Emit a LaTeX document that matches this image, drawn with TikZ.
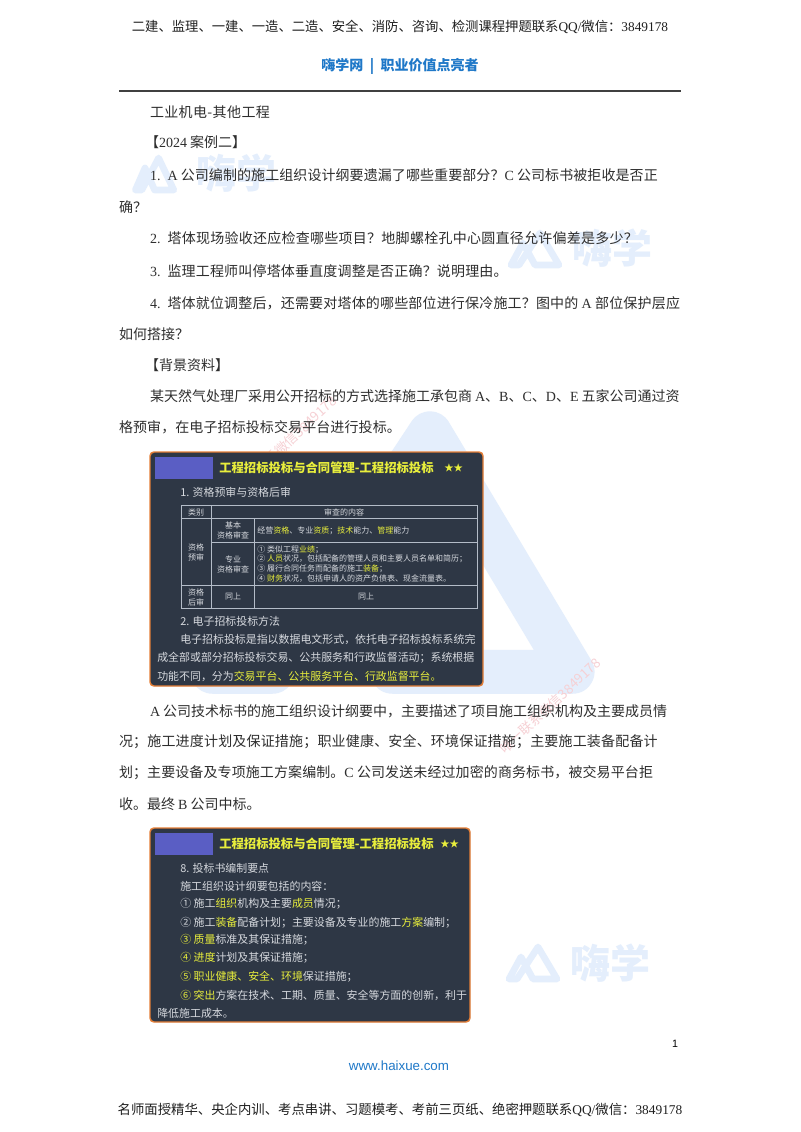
\documentclass[tikz,border=0pt]{standalone}
\usepackage{fontspec}
\setmainfont{Noto Sans CJK SC}
\newfontfamily\latinf{Liberation Serif}
\newfontfamily\sansf{Liberation Sans}
\newcommand{\lf}[1]{{\latinf #1}}
\newcommand{\ls}[2]{{\addfontfeature{LetterSpace=#1}#2}}
\definecolor{wmblue}{HTML}{E4EEFC}
\definecolor{panel}{HTML}{2E3745}
\definecolor{pborder}{HTML}{E57E36}
\definecolor{ylw}{HTML}{E8EE3C}
\definecolor{ptxt}{HTML}{D6D9DE}
\definecolor{hblue}{HTML}{1F78C8}
\definecolor{pgrid}{HTML}{B4BCC8}
\definecolor{redmk}{HTML}{F6D0D4}
\definecolor{pblock}{HTML}{5A5EC4}
\newcommand{\Y}[1]{\textcolor{ylw}{#1}}
% logo: x, y, x scale, y scale, stroke width
\newcommand{\wmlogo}[5]{%
 \begin{scope}[shift={(#1,#2)},xscale=#3,yscale=#4]
 \draw[wmblue,line width=#5,line join=round,line cap=round]
   (3,35)--(15,13)--(27,35)--(51,35)--(32,3)--(11,35)--cycle;
 \end{scope}}
\tikzset{
 x=0.75pt,y=-0.75pt,
 bodyline/.style={anchor=west,inner sep=0pt,outer sep=0pt,text=black!82,font=\fontsize{10.5pt}{12pt}\selectfont},
 headline/.style={anchor=center,inner sep=0pt,text=black!88,font=\fontsize{10pt}{12pt}\selectfont},
 ptitle/.style={anchor=west,inner sep=0pt,text=ylw,font=\bfseries\fontsize{9.25pt}{10pt}\selectfont},
 ptext/.style={anchor=west,inner sep=0pt,text=ptxt,font=\fontsize{8.2pt}{9pt}\selectfont},
 psmall/.style={anchor=center,inner sep=0pt,text=ptxt,font=\fontsize{6pt}{7.5pt}\selectfont,align=center},
 psmallw/.style={anchor=west,inner sep=0pt,text=ptxt,font=\fontsize{6pt}{7.5pt}\selectfont},
 wmtext/.style={inner sep=0pt,text=wmblue,font=\bfseries\fontsize{30pt}{32pt}\selectfont},
 redwm/.style={inner sep=0pt,text=redmk,font=\fontsize{10pt}{11pt}\selectfont,rotate=43},
 panelbox/.style={fill=panel,draw=pborder,line width=1.1pt,rounded corners=3pt},
 grid/.style={draw=pgrid,line width=0.6pt}
}
\begin{document}
\begin{tikzpicture}
\useasboundingbox[fill=white] (0,0) rectangle (800,1132);
% large watermark
\wmlogo{190}{411}{7.5}{7.45}{33pt}
\wmlogo{133}{155}{0.8}{1.0}{5pt}
\node[wmtext] (wm1) at (236,173) {嗨学};
\wmlogo{508}{230}{1}{1}{5pt}
\node[wmtext] (wm2) at (612,248) {嗨学};
\wmlogo{506}{944}{1}{1}{5pt}
\node[wmtext] (wm3) at (610,963) {嗨学};
\node[redwm] (rw1) at (550,706) {唯一联系微信3849178};
\node[redwm] (rw2) at (286,444) {唯一联系微信3849178};
% header
\node[headline] (hd) at (400,26.5) {二建、监理、一建、一造、二造、安全、消防、咨询、检测课程押题联系\lf{QQ/}微信：\lf{3849178}};
\node[headline,text=hblue,font=\bfseries\fontsize{10.5pt}{12pt}\selectfont] (hb) at (400,66) {嗨学网 \ | \ 职业价值点亮者};
\coordinate (rl) at (119,91); \coordinate (rr) at (681,91);
\draw[black!75,line width=0.8pt] (rl)--(rr);
% body
\node[bodyline] (l1) at (150,112) {\ls{2.7}{工业机电-其他工程}};
\node[bodyline] (l2) at (145,142) {【\lf{2024} 案例二】};
\node[bodyline] (l3) at (150,175) {\ls{0.55}{\lf{1.\ \ A} 公司编制的施工组织设计纲要遗漏了哪些重要部分？\lf{C} 公司标书被拒收是否正}};
\node[bodyline] (l4) at (119,207) {确？};
\node[bodyline] (l5) at (150,238) {\ls{1.9}{\lf{2.\ \ }塔体现场验收还应检查哪些项目？地脚螺栓孔中心圆直径允许偏差是多少？}};
\node[bodyline] (l6) at (150,271) {\ls{1.3}{\lf{3.\ \ }监理工程师叫停塔体垂直度调整是否正确？说明理由。}};
\node[bodyline] (l7) at (150,303) {\ls{1.25}{\lf{4.\ \ }塔体就位调整后，还需要对塔体的哪些部位进行保冷施工？图中的 \lf{A} 部位保护层应}};
\node[bodyline] (l8) at (119,334) {如何搭接？};
\node[bodyline] (l9) at (145,365) {【背景资料】};
\node[bodyline] (l10) at (150,396) {某天然气处理厂采用公开招标的方式选择施工承包商 \lf{A}、\lf{B}、\lf{C}、\lf{D}、\lf{E} 五家公司通过资};
\node[bodyline] (l11) at (119,427) {\ls{0.7}{格预审，在电子招标投标交易平台进行投标。}};
\node[bodyline] (l12) at (150,711) {\lf{A} 公司技术标书的施工组织设计纲要中，主要描述了项目施工组织机构及主要成员情};
\node[bodyline] (l13) at (119,742) {\ls{1.3}{况；施工进度计划及保证措施；职业健康、安全、环境保证措施；主要施工装备配备计}};
\node[bodyline] (l14) at (119,773) {\ls{0.7}{划；主要设备及专项施工方案编制。\lf{C} 公司发送未经过加密的商务标书，被交易平台拒}};
\node[bodyline] (l15) at (119,804) {收。最终 \lf{B} 公司中标。};
% panel 1
\draw[panelbox] (150,452) rectangle (483,686);
\fill[pblock] (155,457) rectangle (213,479);
\node[ptitle] (t1) at (219,468) {工程招标投标与合同管理-工程招标投标};
\node[ptitle,font=\bfseries\fontsize{7pt}{8pt}\selectfont] (st1) at (444,468) {★★};
\node[ptext] (s1) at (180,492) {1. 资格预审与资格后审};
\draw[grid] (181,505) rectangle (477,608);
\draw[grid] (181,518)--(477,518) (211,542)--(477,542) (181,585)--(477,585);
\draw[grid] (211,505)--(211,608) (254,518)--(254,608);
\node[psmall] (c1) at (196,512) {类别};
\node[psmall] (c2) at (344,512) {审查的内容};
\node[psmall] (c3) at (196,552) {资格\\预审};
\node[psmall] (c4) at (233,530) {基本\\资格审查};
\node[psmall] (c5) at (233,564) {专业\\资格审查};
\node[psmallw] (c6) at (257,531) {经营\Y{资格}、专业\Y{资质}；\Y{技术}能力、\Y{管理}能力};
\node[psmallw] (c7) at (257,550) {① 类似工程\Y{业绩}；};
\node[psmallw] (c8) at (257,559) {② \Y{人员}状况，包括配备的管理人员和主要人员名单和简历；};
\node[psmallw] (c9) at (257,569) {③ 履行合同任务而配备的施工\Y{装备}；};
\node[psmallw] (c10) at (257,579) {④ \Y{财务}状况，包括申请人的资产负债表、现金流量表。};
\node[psmall] (c11) at (196,597) {资格\\后审};
\node[psmall] (c12) at (233,597) {同上};
\node[psmall] (c13) at (366,597) {同上};
\node[ptext] (s2) at (180,621) {2. 电子招标投标方法};
\node[ptext] (s3) at (180,639) {电子招标投标是指以数据电文形式，依托电子招标投标系统完};
\node[ptext] (s4) at (157,658) {成全部或部分招标投标交易、公共服务和行政监督活动；系统根据};
\node[ptext] (s5) at (157,676) {功能不同，分为\Y{交易平台、公共服务平台、行政监督平台。}};
% panel 2
\draw[panelbox] (150,828) rectangle (470,1022);
\fill[pblock] (155,833) rectangle (213,855);
\node[ptitle] (t2) at (219,844) {工程招标投标与合同管理-工程招标投标};
\node[ptitle,font=\bfseries\fontsize{7pt}{8pt}\selectfont] (st2) at (440,844) {★★};
\node[ptext] (a1) at (180,868) {8. 投标书编制要点};
\node[ptext] (a2) at (180,886) {施工组织设计纲要包括的内容：};
\node[ptext] (a3) at (180,904) {① 施工\Y{组织}机构及主要\Y{成员}情况；};
\node[ptext] (a4) at (180,923) {② 施工\Y{装备}配备计划；主要设备及专业的施工\Y{方案}编制；};
\node[ptext] (a5) at (180,940) {\Y{③ 质量}标准及其保证措施；};
\node[ptext] (a6) at (180,958) {\Y{④ 进度}计划及其保证措施；};
\node[ptext] (a7) at (180,977) {\Y{⑤ 职业健康、安全、环境}保证措施；};
\node[ptext] (a8) at (180,995) {\Y{⑥ 突出}方案在技术、工期、质量、安全等方面的创新，利于};
\node[ptext] (a9) at (157,1013) {降低施工成本。};
% footer
\node[anchor=center,inner sep=0pt,font=\sansf\fontsize{8pt}{9pt}\selectfont] (pg) at (675,1044) {1};
\node[anchor=center,inner sep=0pt,text=hblue,font=\sansf\fontsize{10pt}{12pt}\selectfont] (url) at (399,1066) {www.haixue.com};
\node[headline,font=\fontsize{10.03pt}{12pt}\selectfont] (ft) at (400,1109.5) {名师面授精华、央企内训、考点串讲、习题模考、考前三页纸、绝密押题联系\lf{QQ/}微信：\lf{3849178}};
\end{tikzpicture}
\end{document}
